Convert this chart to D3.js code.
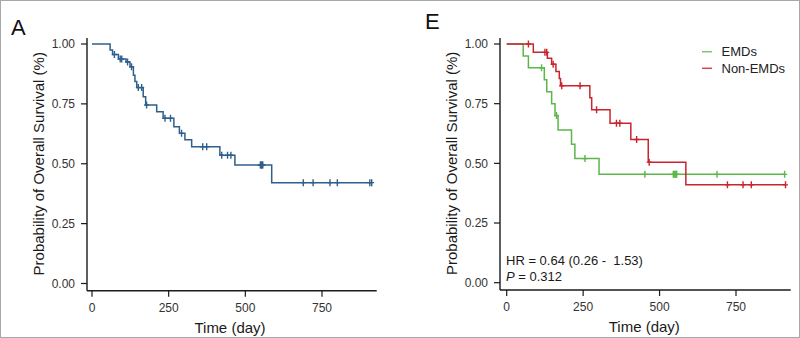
<!DOCTYPE html>
<html>
<head>
<meta charset="utf-8">
<script src="https://cdn.jsdelivr.net/npm/d3@7"></script>
<style>
  body { margin: 0; background: #fff; }
  svg { display: block; font-family: 'Liberation Sans', Arial, sans-serif; }
</style>
</head>
<body>
<svg width="800" height="338"></svg>
<script>
'use strict'

// Panel A: all patients
let timeA = [0, 59, 67, 86, 111, 124, 135, 140, 146, 167, 175, 211, 232, 267, 285, 303, 325, 417, 466, 586]
let survA = [1, 0.975, 0.956, 0.937, 0.925, 0.905, 0.87, 0.843, 0.818, 0.78, 0.745, 0.717, 0.69, 0.655, 0.627, 0.60, 0.571, 0.536, 0.495, 0.421]
let censorA = [73, 92, 97, 116, 129, 151, 162, 178, 238, 256, 292, 361, 374, 423, 442, 453, 549, 551, 553, 555, 557, 689, 721, 776, 800, 906, 912]

// Panel E: EMDs vs Non-EMDs
let timeEmd = [0, 54, 71, 123, 131, 147, 158, 168, 212, 223, 302]
let survEmd = [1, 0.95, 0.90, 0.85, 0.80, 0.75, 0.70, 0.64, 0.58, 0.52, 0.454]
let censorEmd = [114, 163, 256, 452, 545, 548, 551, 554, 556, 688, 909]

let timeNon = [0, 87, 133, 147, 161, 172, 176, 272, 278, 338, 406, 463, 586]
let survNon = [1, 0.965, 0.94, 0.915, 0.885, 0.855, 0.825, 0.775, 0.725, 0.668, 0.60, 0.505, 0.41]
let censorNon = [71, 125, 131, 152, 180, 240, 294, 359, 370, 425, 466, 722, 773, 800, 912]

let xTicks = [0, 250, 500, 750]
let yTicks = [0, 0.25, 0.5, 0.75, 1]

let svg = d3.select('svg')

svg.append('rect')
    .attr('x', 0.5).attr('y', 0.5)
    .attr('width', 799).attr('height', 337)
    .attr('fill', '#fff')
    .attr('stroke', '#a8a8a8')

function stepAt(times, surv, t) {
    let i = d3.bisectRight(times, t) - 1
    return surv[Math.max(0, i)]
}

function drawPanel(opt) {
    let x = d3.scaleLinear().domain([0, 750]).range([opt.x0, opt.x750])
    let y = d3.scaleLinear().domain([0, 1]).range([opt.y0, opt.y1])
    let g = svg.append('g')

    // y axis
    g.append('line')
        .attr('x1', opt.axisX).attr('x2', opt.axisX)
        .attr('y1', opt.axisTop).attr('y2', opt.axisY)
        .attr('stroke', '#1a1a1a').attr('stroke-width', 1.4)
    g.selectAll('.ytick').data(yTicks).enter().append('line')
        .attr('x1', opt.axisX - 6).attr('x2', opt.axisX)
        .attr('y1', d => y(d)).attr('y2', d => y(d))
        .attr('stroke', '#1a1a1a').attr('stroke-width', 1.2)
    g.selectAll('.ylab').data(yTicks).enter().append('text')
        .attr('x', opt.axisX - 12)
        .attr('y', d => y(d))
        .attr('dy', '0.35em')
        .attr('text-anchor', 'end')
        .attr('font-size', 12)
        .attr('fill', '#333')
        .text(d => d3.format('.2f')(d))

    // x axis
    g.append('line')
        .attr('x1', opt.axisX).attr('x2', opt.axisRight)
        .attr('y1', opt.axisY).attr('y2', opt.axisY)
        .attr('stroke', '#1a1a1a').attr('stroke-width', 1.4)
    g.selectAll('.xtick').data(xTicks).enter().append('line')
        .attr('x1', d => x(d)).attr('x2', d => x(d))
        .attr('y1', opt.axisY).attr('y2', opt.axisY + 6)
        .attr('stroke', '#1a1a1a').attr('stroke-width', 1.2)
    g.selectAll('.xlab').data(xTicks).enter().append('text')
        .attr('x', d => x(d))
        .attr('y', opt.axisY + 21)
        .attr('text-anchor', 'middle')
        .attr('font-size', 12)
        .attr('fill', '#333')
        .text(d => d)

    g.append('text')
        .attr('x', x(450))
        .attr('y', opt.axisY + 42)
        .attr('text-anchor', 'middle')
        .attr('font-size', 15)
        .attr('fill', '#1a1a1a')
        .text('Time (day)')

    g.append('text')
        .attr('transform', 'translate(' + (opt.axisX - 43) + ',' + y(0.5) + ') rotate(-90)')
        .attr('text-anchor', 'middle')
        .attr('font-size', 15)
        .attr('fill', '#1a1a1a')
        .text('Probability of Overall Survival (%)')

    g.append('text')
        .attr('x', opt.letterX).attr('y', opt.letterY)
        .attr('font-size', 22)
        .attr('fill', '#111')
        .text(opt.letter)

    // curves
    let line = d3.line()
        .x(d => x(d[0]))
        .y(d => y(d[1]))
        .curve(d3.curveStepAfter)

    opt.series.forEach(function(s) {
        let pts = s.times.map((t, i) => [t, s.surv[i]])
        let tEnd = d3.max(s.censor)
        pts.push([tEnd, s.surv[s.surv.length - 1]])
        g.append('path')
            .datum(pts)
            .attr('d', line)
            .attr('fill', 'none')
            .attr('stroke', s.color)
            .attr('stroke-width', 1.5)

        g.selectAll(null).data(s.censor).enter().append('path')
            .attr('d', function(t) {
                let cx = x(t), cy = y(stepAt(s.times, s.surv, t))
                return 'M' + cx + ',' + (cy - 3.5) + 'V' + (cy + 3.5) +
                    'M' + (cx - 2.5) + ',' + cy + 'H' + (cx + 2.5)
            })
            .attr('stroke', s.color)
            .attr('stroke-width', 1.4)
    })
    return { x: x, y: y, g: g }
}

drawPanel({
    x0: 92, x750: 322, y0: 283.5, y1: 44,
    axisX: 87, axisY: 290.7, axisTop: 38, axisRight: 376.7,
    letter: 'A', letterX: 11, letterY: 35,
    series: [{ times: timeA, surv: survA, censor: censorA, color: '#2f5f8c' }]
})

let pE = drawPanel({
    x0: 506.7, x750: 736, y0: 282.7, y1: 44,
    axisX: 500, axisY: 290, axisTop: 38, axisRight: 790.7,
    letter: 'E', letterX: 425, letterY: 28.5,
    series: [
        { times: timeEmd, surv: survEmd, censor: censorEmd, color: '#5cb64a' },
        { times: timeNon, surv: survNon, censor: censorNon, color: '#c8262e' }
    ]
})

// legend
let legendNames = ['EMDs', 'Non-EMDs']
let legendColors = ['#7cc66c', '#cf4a50']
let lg = pE.g.append('g')
lg.selectAll('line').data(legendNames).enter().append('line')
    .attr('x1', 702).attr('x2', 712)
    .attr('y1', (d, i) => 51.7 + i * 16.6)
    .attr('y2', (d, i) => 51.7 + i * 16.6)
    .attr('stroke', (d, i) => legendColors[i])
    .attr('stroke-width', 1.5)
lg.selectAll('text').data(legendNames).enter().append('text')
    .attr('x', 721.5)
    .attr('y', (d, i) => 51.7 + i * 16.6)
    .attr('dy', '0.35em')
    .attr('font-size', 13)
    .attr('fill', '#222')
    .text(d => d)

// HR annotation
pE.g.append('text')
    .attr('x', 506)
    .attr('y', 264.5)
    .attr('font-size', 13)
    .attr('fill', '#1a1a1a')
    .style('white-space', 'pre')
    .text('HR = 0.64 (0.26 -  1.53)')
let pTxt = pE.g.append('text')
    .attr('x', 506)
    .attr('y', 280.5)
    .attr('font-size', 13)
    .attr('fill', '#1a1a1a')
pTxt.append('tspan').attr('font-style', 'italic').text('P')
pTxt.append('tspan').text(' = 0.312')
</script>
</body>
</html>
